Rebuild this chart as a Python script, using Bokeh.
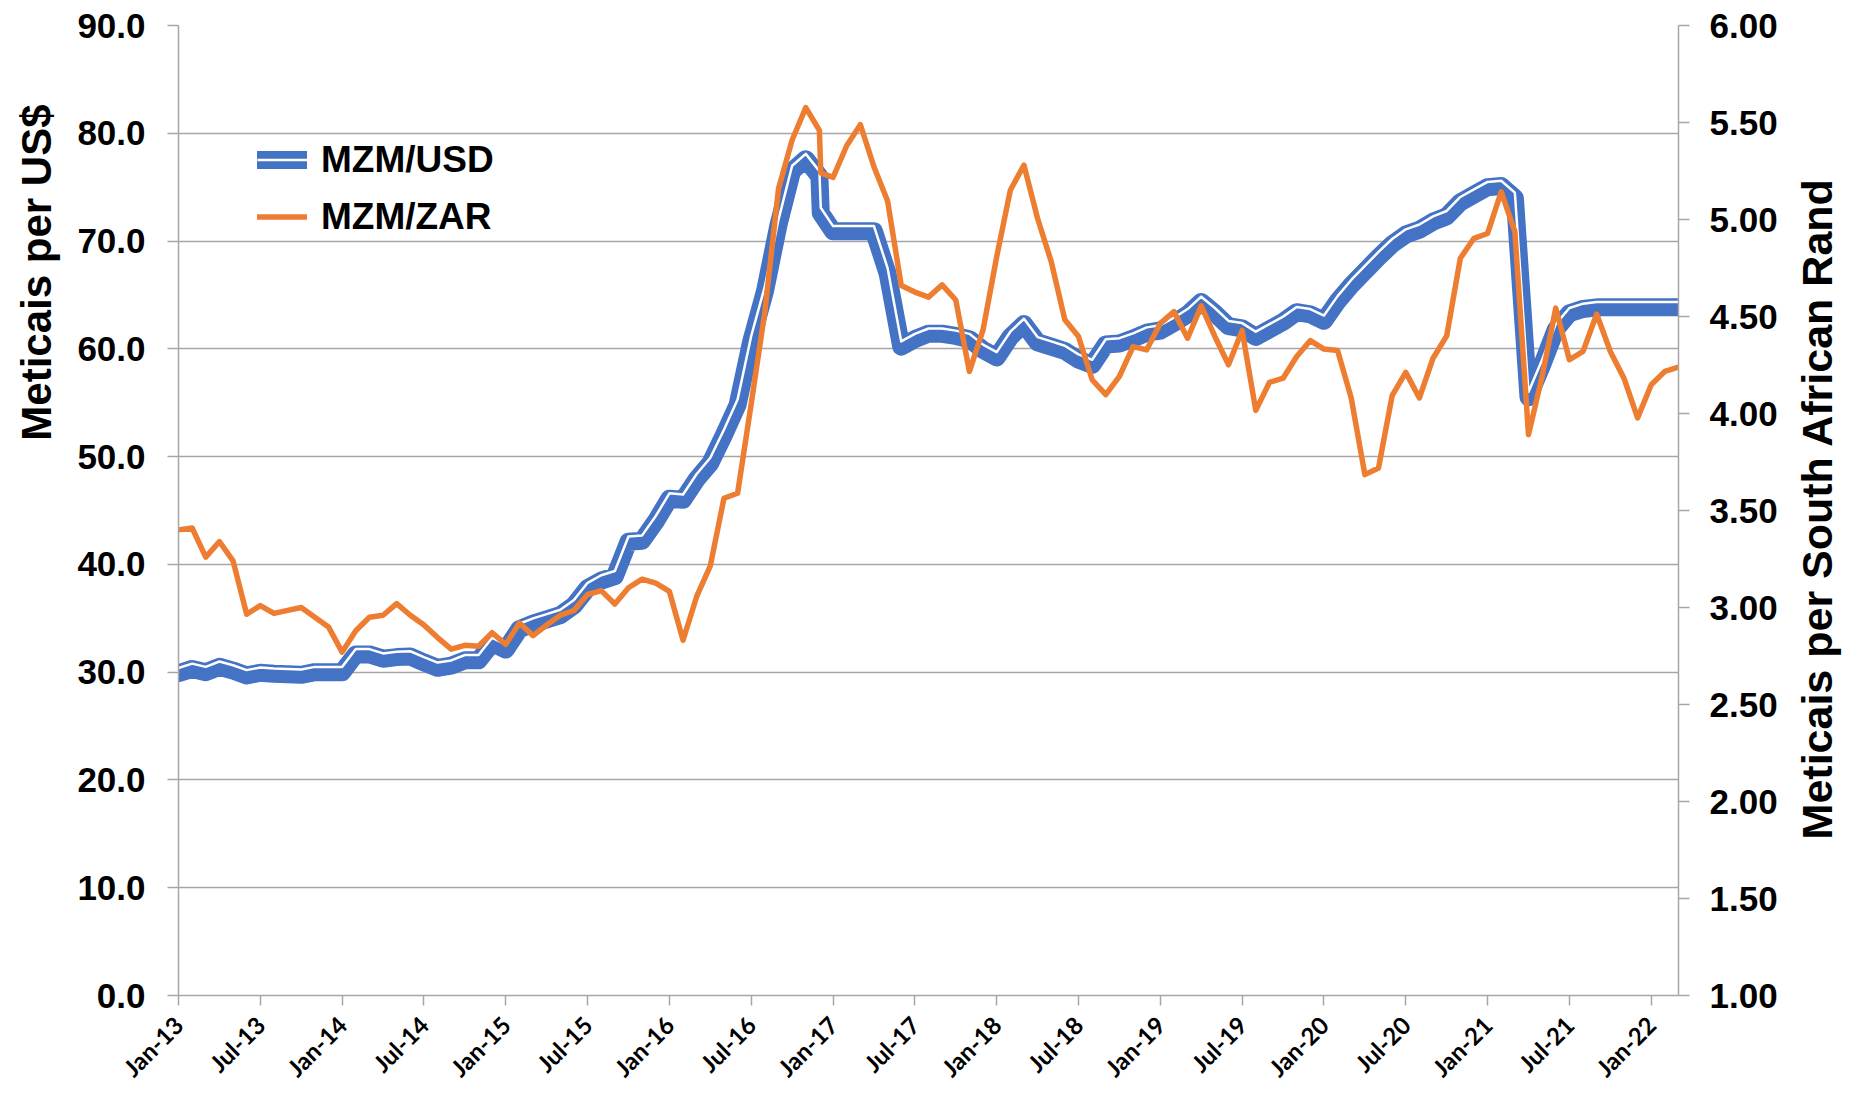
from math import pi
from bokeh.plotting import figure
from bokeh.models import (Range1d, LinearAxis, FixedTicker, NumeralTickFormatter,
                          ColumnDataSource, Legend, LegendItem, Title, Label)
from bokeh.transform import dodge
from bokeh.embed import file_html
from bokeh.resources import INLINE

# ---------------- data (month index from Jan-2013; one extra point inside Dec-2016) -------------
month_pos = list(range(0, 48)) + [47.1] + list(range(48, 111))

mzm_usd = [
    29.9, 30.3, 30.0, 30.5, 30.15, 29.7, 29.95, 29.85, 29.8, 29.75, 30.0, 30.0,      # 2013
    30.0, 31.65, 31.65, 31.25, 31.4, 31.45, 30.9, 30.4, 30.6, 31.1, 31.1, 32.7,      # 2014
    32.1, 34.0, 34.5, 34.9, 35.3, 36.2, 37.8, 38.5, 38.9, 42.1, 42.2, 44.0,          # 2015
    46.1, 46.0, 47.9, 49.4, 52.0, 54.8, 60.7, 65.3, 71.5, 76.5, 77.6, 76.0, 72.6,    # 2016
    70.9, 70.9, 70.9, 70.9, 67.0, 60.2, 60.9, 61.4, 61.4, 61.2, 60.9, 59.9,          # 2017
    59.2, 61.1, 62.3, 60.6, 60.2, 59.8, 59.0, 58.5, 60.4, 60.5, 60.95, 61.5,         # 2018
    61.7, 62.4, 63.2, 64.35, 63.3, 62.1, 61.9, 61.1, 61.8, 62.5, 63.4, 63.2,         # 2019
    62.6, 64.4, 65.9, 67.2, 68.5, 69.7, 70.6, 71.05, 71.8, 72.3, 73.6, 74.3,         # 2020
    75.0, 75.1, 74.0, 55.5, 58.5, 61.8, 63.3, 63.7, 63.85, 63.85, 63.85, 63.85,      # 2021
    63.85, 63.85, 63.85,                                                             # 2022
]

mzm_zar = [
    3.40, 3.41, 3.26, 3.34, 3.24, 2.965, 3.01, 2.97, 2.985, 3.00, 2.95, 2.90,        # 2013
    2.77, 2.88, 2.95, 2.96, 3.02, 2.96, 2.91, 2.845, 2.785, 2.805, 2.80, 2.87,       # 2014
    2.81, 2.92, 2.855, 2.91, 2.96, 2.985, 3.067, 3.087, 3.018, 3.102, 3.146, 3.126,  # 2015
    3.083, 2.831, 3.057, 3.215, 3.563, 3.589, 4.051, 4.524, 5.158, 5.41, 5.577, 5.459, 5.24,  # 2016
    5.217, 5.38, 5.489, 5.272, 5.095, 4.66, 4.626, 4.60, 4.663, 4.585, 4.217, 4.431, # 2017
    4.808, 5.151, 5.280, 5.005, 4.783, 4.483, 4.397, 4.174, 4.097, 4.191, 4.345, 4.328,  # 2018
    4.465, 4.525, 4.388, 4.555, 4.397, 4.251, 4.428, 4.016, 4.160, 4.182, 4.294, 4.376,  # 2019
    4.332, 4.325, 4.080, 3.685, 3.719, 4.092, 4.212, 4.080, 4.285, 4.400, 4.800, 4.903,  # 2020
    4.928, 5.143, 4.937, 3.891, 4.191, 4.543, 4.277, 4.320, 4.513, 4.320, 4.182, 3.977,  # 2021
    4.148, 4.217, 4.239,                                                             # 2022
]

tick_pos = list(range(0, 109, 6))
tick_labels = ["Jan-13", "Jul-13", "Jan-14", "Jul-14", "Jan-15", "Jul-15", "Jan-16",
               "Jul-16", "Jan-17", "Jul-17", "Jan-18", "Jul-18", "Jan-19", "Jul-19",
               "Jan-20", "Jul-20", "Jan-21", "Jul-21", "Jan-22"]
usd_ticks = [0, 10, 20, 30, 40, 50, 60, 70, 80, 90]
zar_ticks = [1.0, 1.5, 2.0, 2.5, 3.0, 3.5, 4.0, 4.5, 5.0, 5.5, 6.0]
left_title = "Meticais per US$"
right_title = "Meticais per South African Rand"

# ---------------- styling ----------------
BLUE = "#4472C4"
ORANGE = "#ED7D31"
GRID = "#A6A6A6"
NUM_FONT = "Liberation Sans"
DATE_FONT = "Lato"

W, H = 1846, 1095
FRAME_L, FRAME_R, FRAME_T, FRAME_B = 177, 1678, 25, 997

src = ColumnDataSource(dict(x=month_pos, usd=mzm_usd, zar=mzm_zar))

p = figure(width=W, height=H, output_backend="svg", toolbar_location=None,
           x_range=Range1d(0, 110), y_range=Range1d(0, 90),
           min_border_left=FRAME_L, min_border_right=W - FRAME_R,
           min_border_top=FRAME_T, min_border_bottom=H - FRAME_B,
           background_fill_color="white", border_fill_color="white")
p.outline_line_color = None
p.extra_y_ranges = {"zar": Range1d(1, 6)}

# grid
p.xgrid.visible = False
p.ygrid.grid_line_color = GRID
p.ygrid.grid_line_width = 1.5
p.ygrid.ticker = FixedTicker(ticks=usd_ticks)

def style_num_axis(ax, fmt, standoff):
    ax.formatter = NumeralTickFormatter(format=fmt)
    ax.major_label_text_font = NUM_FONT
    ax.major_label_text_font_style = "bold"
    ax.major_label_text_font_size = "35px"
    ax.major_label_text_color = "black"
    ax.major_label_standoff = standoff
    ax.axis_line_color = GRID
    ax.axis_line_width = 1.5
    ax.major_tick_line_color = GRID
    ax.major_tick_line_width = 1.5
    ax.major_tick_out = 11
    ax.major_tick_in = 0
    ax.minor_tick_line_color = None

# left axis (its title sits in the upper part, as in the reference)
ya = p.yaxis[0]
ya.ticker = FixedTicker(ticks=usd_ticks)
style_num_axis(ya, "0.0", 22)
p.add_layout(Title(text=left_title, align="right", offset=79, vertical_align="top",
                   standoff=25, text_font=NUM_FONT, text_font_style="bold",
                   text_font_size="42px", text_color="black"), "left")

# right axis
yr = LinearAxis(y_range_name="zar")
yr.ticker = FixedTicker(ticks=zar_ticks)
style_num_axis(yr, "0.00", 20)
p.add_layout(yr, "right")

# right title, reading bottom-to-top, placed in the right side panel
p.add_layout(Label(x=36, y=FRAME_B - 510, x_units="screen", y_units="screen",
                   angle=pi / 2, text=right_title, text_font=NUM_FONT,
                   text_font_style="bold", text_font_size="43px", text_color="black",
                   text_align="center", text_baseline="alphabetic"), "right")

# bottom axis
xa = p.xaxis[0]
xa.ticker = FixedTicker(ticks=tick_pos)
xa.major_label_overrides = {t: l for t, l in zip(tick_pos, tick_labels)}
xa.major_label_orientation = pi / 4
xa.major_label_text_font = DATE_FONT
xa.major_label_text_font_style = "bold"
xa.major_label_text_font_size = "24px"
xa.major_label_text_color = "black"
xa.major_label_standoff = 15
xa.axis_line_color = GRID
xa.axis_line_width = 1.5
xa.major_tick_line_color = GRID
xa.major_tick_line_width = 1.5
xa.major_tick_out = 10
xa.major_tick_in = 0
xa.minor_tick_line_color = None

# series: MZM/USD as a compound (thick-thin) line, MZM/ZAR on the right axis
r_blue = p.line("x", "usd", source=src, line_color=BLUE, line_width=18,
                line_join="round", line_cap="round")
r_white = p.line(x="x", y=dodge("usd", 0.49), source=src, line_color="white",
                 line_width=2.5, line_join="round", line_cap="butt")
r_orange = p.line("x", "zar", source=src, y_range_name="zar", line_color=ORANGE,
                  line_width=5.5, line_join="round", line_cap="round")

legend = Legend(items=[LegendItem(label="MZM/USD", renderers=[r_blue, r_white]),
                       LegendItem(label="MZM/ZAR", renderers=[r_orange])],
                location=(79, 757), orientation="vertical",
                glyph_width=50, glyph_height=43, label_height=43, spacing=14,
                padding=0, margin=0, label_standoff=14,
                label_text_font=NUM_FONT, label_text_font_style="bold",
                label_text_font_size="37px", label_text_color="black",
                background_fill_alpha=0, border_line_color=None)
p.add_layout(legend)

open("out.html", "w").write(file_html(p, INLINE))
